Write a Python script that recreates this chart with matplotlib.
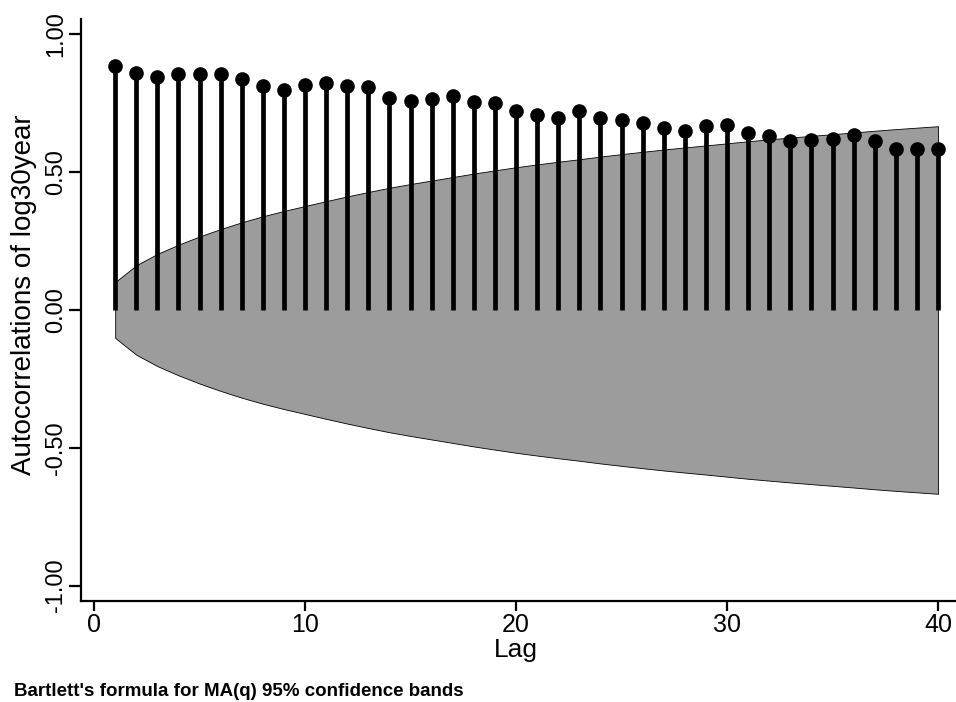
import numpy as np
import matplotlib
matplotlib.use("Agg")
import matplotlib.pyplot as plt

plt.rcParams['font.family'] = ['Liberation Sans', 'DejaVu Sans']

lags = np.arange(1, 41)
acf = [0.886, 0.859, 0.847, 0.857, 0.858, 0.855, 0.838, 0.814, 0.800, 0.818,
       0.822, 0.812, 0.809, 0.770, 0.759, 0.765, 0.778, 0.755, 0.752, 0.721,
       0.709, 0.696, 0.722, 0.696, 0.690, 0.678, 0.661, 0.648, 0.668, 0.673,
       0.641, 0.631, 0.612, 0.617, 0.619, 0.635, 0.614, 0.583, 0.583, 0.583]
n_obs = 375  # sample size, estimated from the width of the band at lag 1

xticks = [0, 10, 20, 30, 40]
yticks = [-1.0, -0.5, 0.0, 0.5, 1.0]
ytick_labels = ["-1.00", "-0.50", "0.00", "0.50", "1.00"]

# Bartlett's formula for MA(q) 95% bands
r = np.array(acf)
cum = np.concatenate([[0.0], np.cumsum(r[:-1] ** 2)])
band = 1.96 * np.sqrt((1 + 2 * cum) / n_obs)

W, H = 956, 702
fig = plt.figure(figsize=(W / 100, H / 100), dpi=100)
ax = fig.add_axes([81 / W, 101 / H, (W - 81) / W, 582 / H])

ax.fill_between(lags, -band, band, color='#9c9c9c', edgecolor='black',
                linewidth=0.6, zorder=1)

ax.vlines(lags, 0, acf, color='black', linewidth=3.4, zorder=2)
ax.plot(lags, acf, 'o', color='black', markersize=9.5, zorder=3)

ax.set_xlim(-0.62, 40.85)
ax.set_ylim(-1.056, 1.056)

ax.set_xticks(xticks)
ax.set_xticklabels([str(t) for t in xticks], fontsize=18)
ax.set_yticks(yticks)
ax.set_yticklabels(ytick_labels, fontsize=17, rotation=90, va='center')

for s in ['top', 'right']:
    ax.spines[s].set_visible(False)
for s in ['left', 'bottom']:
    ax.spines[s].set_linewidth(1.6)

ax.tick_params(axis='y', direction='out', length=9, width=1.6, pad=1)
ax.tick_params(axis='x', direction='out', length=7, width=1.6, pad=2)

fig.text(24 / W, 1 - 295 / H, "Autocorrelations of log30year", rotation=90,
         ha='center', va='center', fontsize=20)
fig.text((94 + 938) / 2 / W, 1 - 650 / H, "Lag", ha='center', va='center',
         fontsize=19)
fig.text(14 / W, 1 - 691 / H, "Bartlett's formula for MA(q) 95% confidence bands",
         ha='left', va='center', fontsize=13.5, fontweight='bold')

fig.savefig("out.png", dpi=100)
